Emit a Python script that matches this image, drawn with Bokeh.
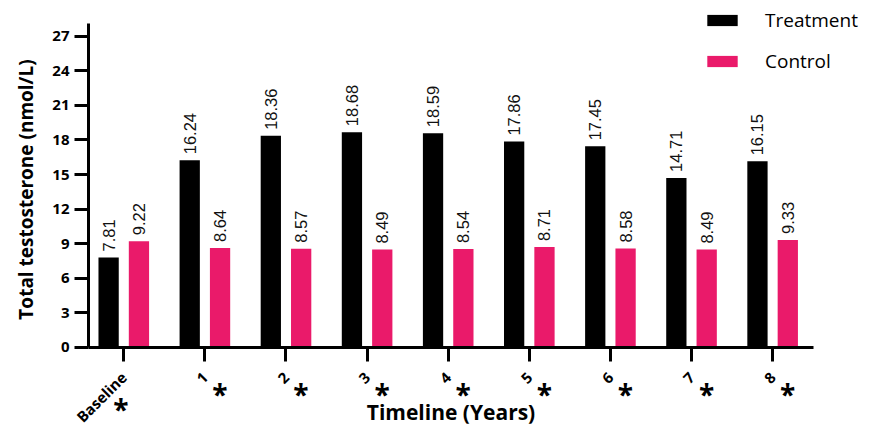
import math
from bokeh.plotting import figure
from bokeh.models import ColumnDataSource, Range1d, FixedTicker, SingleIntervalTicker, LabelSet, Label
from bokeh.core.properties import value
from bokeh.transform import dodge
from bokeh.embed import file_html
from bokeh.resources import INLINE

categories = ["Baseline", "1", "2", "3", "4", "5", "6", "7", "8"]
treatment = [7.81, 16.24, 18.36, 18.68, 18.59, 17.86, 17.45, 14.71, 16.15]
control = [9.22, 8.64, 8.57, 8.49, 8.54, 8.71, 8.58, 8.49, 9.33]
significance = ["*", "*", "*", "*", "*", "*", "*", "*", "*"]
y_ticks_interval = 3
y_axis_top = 28.1
y_title = "Total testosterone (nmol/L)"
x_title = "Timeline (Years)"

BLACK = "#000000"
PINK = "#EA1A6A"
FONT = "Open Sans"

xs = list(range(len(categories)))
src = ColumnDataSource(dict(
    x=xs,
    treatment=treatment,
    control=control,
    t_lab=[f"{v:.2f}" for v in treatment],
    c_lab=[f"{v:.2f}" for v in control],
    star=significance,
    star_dx=[-3 if len(c) > 2 else 15 for c in categories],
    star_dy=[-62 if len(c) > 2 else -47 for c in categories],
))

W, H = 877, 427
x_left = -0.435
x_right = 8.5
p = figure(width=W, height=H, output_backend="svg", toolbar_location=None,
           x_range=Range1d(-1.52, 9.293), y_range=Range1d(-6.94, 30.1),
           min_border_left=0, min_border_right=0, min_border_top=0, min_border_bottom=0)
p.outline_line_color = None
p.xgrid.grid_line_color = None
p.ygrid.grid_line_color = None
p.background_fill_color = None
p.border_fill_color = "white"

off = 0.187
bw = 0.25
p.vbar(x=dodge("x", -off, range=p.x_range), top="treatment", width=bw, source=src,
       fill_color=BLACK, line_color=None, legend_label="Treatment")
p.vbar(x=dodge("x", off, range=p.x_range), top="control", width=bw, source=src,
       fill_color=PINK, line_color=None, legend_label="Control")

for col, lab, d in (("treatment", "t_lab", -off), ("control", "c_lab", off)):
    ls = LabelSet(x=dodge("x", d, range=p.x_range), y=col, text=lab, source=src,
                  angle=math.pi / 2, text_align="left", text_baseline="middle",
                  y_offset=6, text_font=value("Liberation Sans"), text_font_size=value("16.5px"),
                  text_color="#111111")
    p.add_layout(ls)

stars = LabelSet(x="x", y=0, text="star", source=src, x_offset="star_dx", y_offset="star_dy",
                 text_align="center", text_baseline="middle", text_font=value(FONT),
                 text_font_style="bold", text_font_size=value("28px"), text_color=BLACK)
p.add_layout(stars)

# axes
for ax in (p.xaxis[0], p.yaxis[0]):
    ax.axis_line_width = 3
    ax.major_tick_line_width = 3
    ax.minor_tick_line_color = None
    ax.major_tick_in = 0
    ax.major_label_text_font = FONT
    ax.major_label_text_font_style = "bold"
    ax.major_label_text_color = BLACK
    ax.axis_label_text_font = FONT
    ax.axis_label_text_font_style = "bold"
    ax.axis_label_text_color = BLACK

p.yaxis.fixed_location = x_left
p.yaxis.ticker = SingleIntervalTicker(interval=y_ticks_interval)
p.yaxis.bounds = (0, y_axis_top)
p.yaxis.major_tick_out = 14
p.yaxis.major_label_text_font_size = "15px"
p.yaxis.major_label_standoff = 5

p.add_layout(Label(x=25, y=H - 189, x_units="screen", y_units="screen", text=y_title,
                   angle=math.pi / 2, text_align="center", text_baseline="middle",
                   text_font=FONT, text_font_style="bold", text_font_size="19px",
                   text_color=BLACK))

p.xaxis.fixed_location = 0
p.xaxis.bounds = (x_left, x_right)
p.xaxis.ticker = FixedTicker(ticks=xs)
p.xaxis.major_label_overrides = {i: c for i, c in zip(xs, categories)}
p.xaxis.major_tick_out = 14
p.xaxis.major_label_text_font_size = "15px"
p.xaxis.major_label_orientation = math.pi / 4
p.xaxis.major_label_standoff = 13
p.xaxis.axis_label = x_title
p.xaxis.axis_label_text_font_size = "21px"
p.xaxis.axis_label_standoff = -38

lg = p.legend[0]
lg.location = (703, 353)
lg.border_line_color = None
lg.background_fill_alpha = 0
lg.padding = 0
lg.margin = 0
lg.spacing = 15
lg.glyph_width = 38
lg.glyph_height = 14
lg.label_height = 14
lg.label_standoff = 24
lg.label_text_font = FONT
lg.label_text_font_size = "19px"
lg.label_text_color = BLACK

open("out.html", "w").write(file_html(p, INLINE))
